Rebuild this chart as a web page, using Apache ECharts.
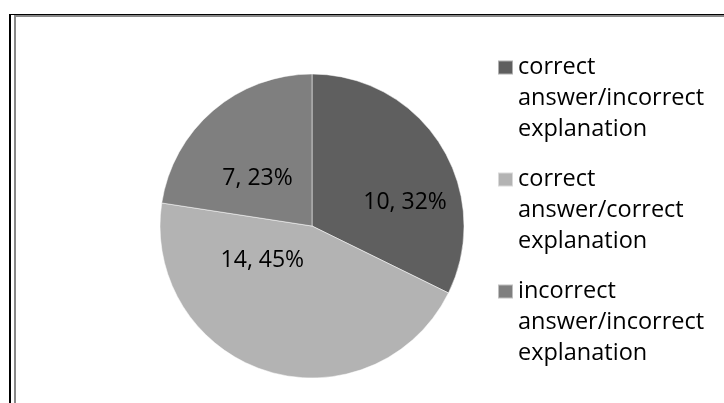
<!DOCTYPE html>
<html>
<head>
<meta charset="utf-8">
<script src="https://cdn.jsdelivr.net/npm/echarts@6/dist/echarts.min.js"></script>
<style>
html,body{margin:0;padding:0;background:#fff;}
#chart{width:724px;height:403px;}
</style>
</head>
<body>
<div id="chart"></div>
<script>
var categories = [
  'correct\nanswer/incorrect\nexplanation',
  'correct\nanswer/correct\nexplanation',
  'incorrect\nanswer/incorrect\nexplanation'
];
var values = [10, 14, 7];
var colors = ['#5f5f5f', '#b3b3b3', '#7f7f7f'];
var labelOffsets = [[26, 18], [-26, -41], [-3, 12]];

var chart = echarts.init(document.getElementById('chart'));
var FONT = '"Open Sans", sans-serif';
chart.setOption({
  animation: false,
  backgroundColor: '#fff',
  graphic: [
    { type: 'line', shape: { x1: 10, y1: 14.5, x2: 724, y2: 14.5 }, style: { stroke: '#000', lineWidth: 1 } },
    { type: 'line', shape: { x1: 10, y1: 14, x2: 10, y2: 403 }, style: { stroke: '#000', lineWidth: 2 } },
    { type: 'line', shape: { x1: 14, y1: 16, x2: 724, y2: 16 }, style: { stroke: '#888', lineWidth: 2 } },
    { type: 'line', shape: { x1: 15, y1: 15, x2: 15, y2: 403 }, style: { stroke: '#888', lineWidth: 2 } }
  ],
  legend: {
    orient: 'vertical',
    left: 497,
    top: -10,
    padding: 0,
    itemGap: -43,
    itemWidth: 15,
    itemHeight: 14,
    icon: 'rect',
    data: categories,
    formatter: function (name) { return '\n\n' + name; },
    textStyle: {
      fontFamily: FONT,
      fontSize: 23.5,
      color: '#000',
      lineHeight: 31
    }
  },
  series: [{
    type: 'pie',
    center: [312, 226],
    radius: [0, 152],
    startAngle: 90,
    clockwise: true,
    data: categories.map(function (c, i) {
      return {
        name: c,
        value: values[i],
        itemStyle: { color: colors[i] },
        label: { offset: labelOffsets[i] }
      };
    }),
    itemStyle: { borderColor: 'rgba(255,255,255,0.5)', borderWidth: 1 },
    label: {
      show: true,
      position: 'inside',
      fontFamily: FONT,
      fontSize: 23,
      color: '#000',
      formatter: function (p) { return p.value + ', ' + Math.round(p.percent) + '%'; }
    },
    labelLine: { show: false },
    emphasis: { disabled: true }
  }]
});
</script>
</body>
</html>
